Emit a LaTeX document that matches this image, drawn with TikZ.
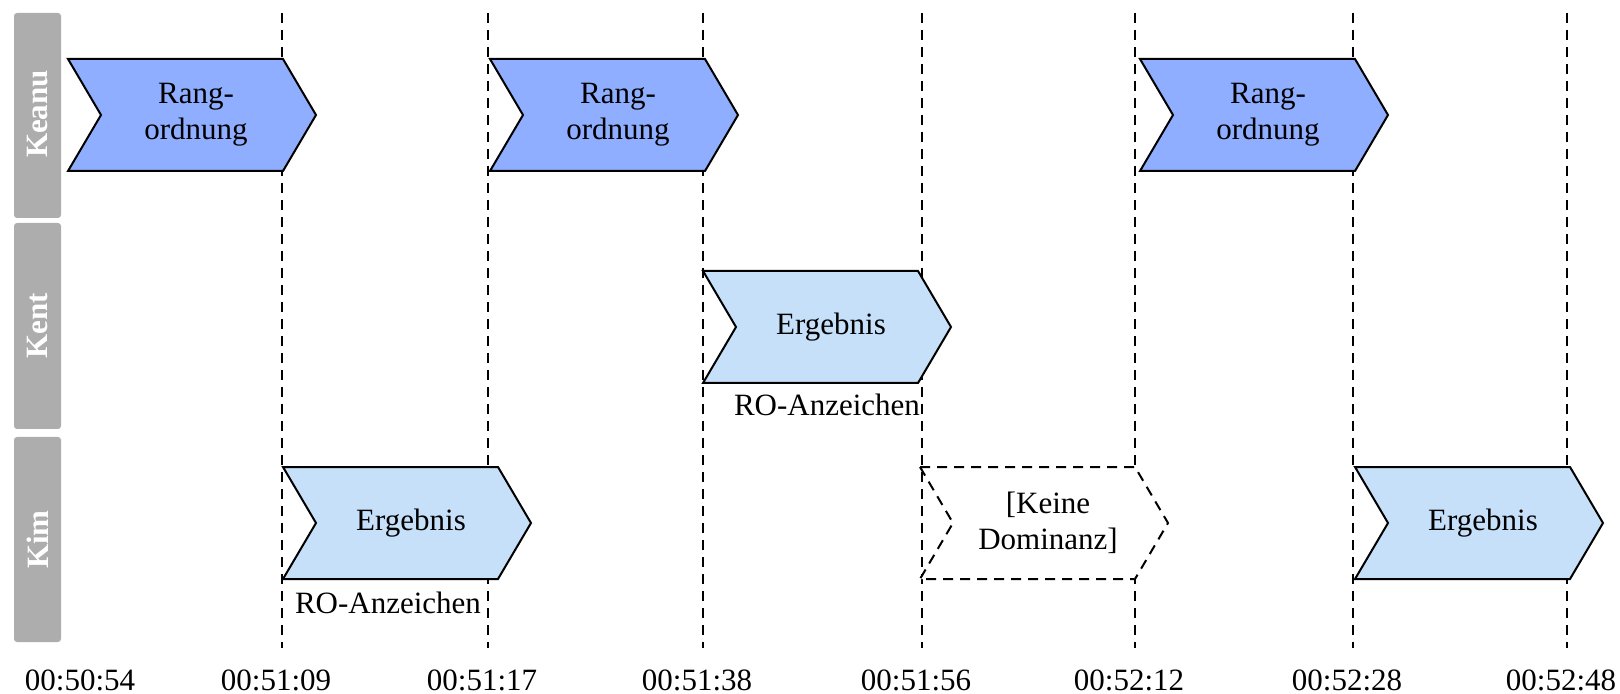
\documentclass[tikz,border=0pt]{standalone}
\usepackage{fontspec}
\setmainfont{Liberation Serif}
\definecolor{lanegray}{HTML}{ADADAD}
\definecolor{rankblue}{HTML}{8FAEFF}
\definecolor{resultblue}{HTML}{C6E0FA}
% one chevron: #1 name, #2 left x, #3 top y, #4 style, #5 text
\newcommand\drawchev[5]{%
  \draw[#4] (#2,#3) -- ++(215,0) -- ++(33,56) -- ++(-33,56) -- ++(-215,0) -- ++(33,-56) -- cycle;
  \node[chevtext] (#1) at ({#2+128},{#3+56}) {#5};
}
\begin{document}
\begin{tikzpicture}[x=0.5pt,y=-0.5pt,
  lane/.style={fill=lanegray, draw=none, rounded corners=1.5pt},
  lanelabel/.style={text=white, font=\fontsize{15.5}{18}\selectfont\bfseries, rotate=90},
  timeline/.style={dash pattern=on 5pt off 3.5pt, line width=1pt},
  timelabel/.style={font=\fontsize{15.5}{18}\selectfont, inner sep=0pt, anchor=base},
  chevtext/.style={font=\fontsize{15.5}{18}\selectfont, align=center, inner sep=0pt},
  cuelabel/.style={font=\fontsize{15.5}{18}\selectfont, inner sep=0pt},
  rank/.style={draw=black, line width=1pt, fill=rankblue, line join=miter},
  result/.style={draw=black, line width=1pt, fill=resultblue, line join=miter},
  nodominance/.style={draw=black, line width=1pt, fill=white, dash pattern=on 5pt off 3.5pt}
]
\useasboundingbox (0,0) rectangle (1620,694);

% swimlane headers
\fill[lane] (14,13) rectangle (61,218);
\fill[lane] (14,223) rectangle (61,429);
\fill[lane] (14,437) rectangle (61,642);
\node[lanelabel] (keanu) at (38,114) {Keanu};
\node[lanelabel] (kent) at (38,326) {Kent};
\node[lanelabel] (kim) at (38,539.5) {Kim};

% time marks
\foreach \n/\x in {1/282,2/488,3/703,4/922,5/1135,6/1353,7/1567}{
  \coordinate (top\n) at (\x,13);
  \coordinate (bot\n) at (\x,648);
  \draw[timeline] (top\n) -- (bot\n);
}
\node[timelabel] (t0) at (80,690) {00:50:54};
\node[timelabel] (t1) at (276,690) {00:51:09};
\node[timelabel] (t2) at (482,690) {00:51:17};
\node[timelabel] (t3) at (697,690) {00:51:38};
\node[timelabel] (t4) at (916,690) {00:51:56};
\node[timelabel] (t5) at (1129,690) {00:52:12};
\node[timelabel] (t6) at (1347,690) {00:52:28};
\node[timelabel] (t7) at (1561,690) {00:52:48};

% Keanu
\drawchev{rank1}{68}{59}{rank}{Rang-\\ordnung}
\drawchev{rank2}{490}{59}{rank}{Rang-\\ordnung}
\drawchev{rank3}{1140}{59}{rank}{Rang-\\ordnung}

% Kent
\drawchev{kentres}{703}{271}{result}{Ergebnis}
\node[cuelabel] (kentcue) at (827,405) {RO-Anzeichen};

% Kim
\drawchev{kimres1}{283}{467}{result}{Ergebnis}
\node[cuelabel] (kimcue) at (388,603) {RO-Anzeichen};
\drawchev{kimnone}{920}{467}{nodominance}{[Keine\\Dominanz]}
\drawchev{kimres2}{1355}{467}{result}{Ergebnis}
\end{tikzpicture}
\end{document}
